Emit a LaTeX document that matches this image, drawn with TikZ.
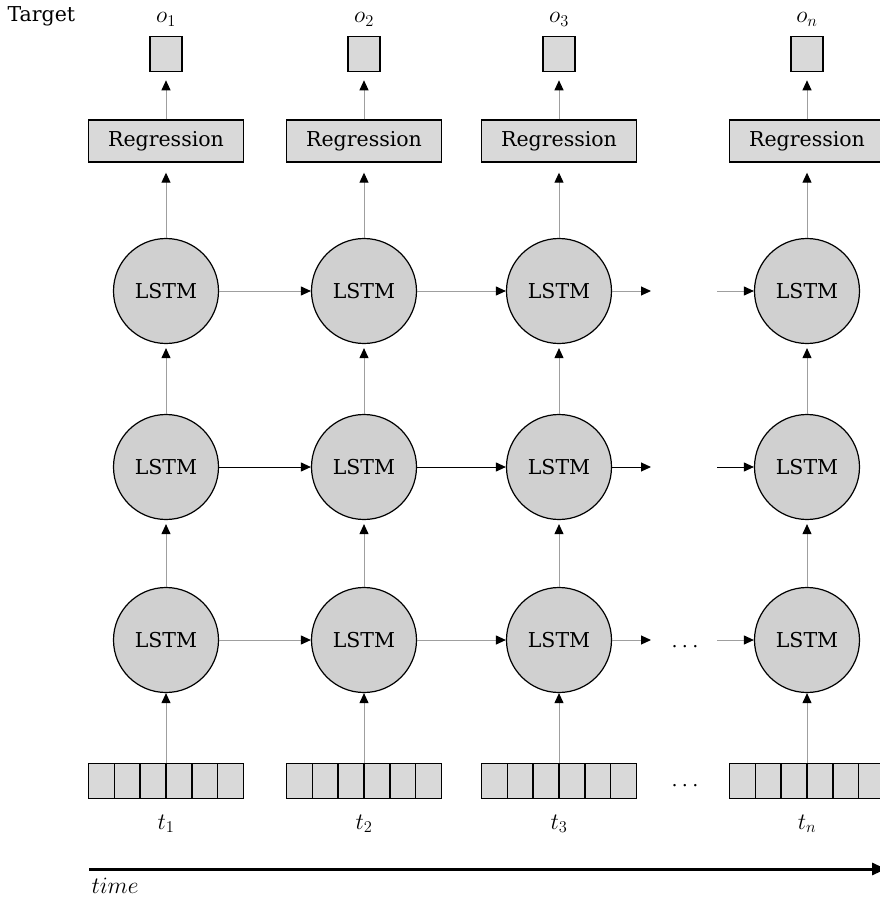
\RequirePackage{fix-cm}
\documentclass[tikz,border=0pt]{standalone}
\usepackage{fontspec}
\setmainfont{DejaVu Serif}
\usetikzlibrary{arrows.meta}
\definecolor{cgray}{RGB}{208,208,208}
\definecolor{bgray}{RGB}{217,217,217}
\begin{document}
\begin{tikzpicture}[x=1pt,y=-1pt,
  txt/.style={font=\fontsize{20.5}{24}\selectfont},
  mtxt/.style={font=\fontsize{23.5}{27}\selectfont},
  lstm/.style={circle, draw=black, line width=1.2pt, fill=cgray, minimum size=105pt, inner sep=0pt, txt},
  regbox/.style={rectangle, draw=black, line width=1.4pt, fill=bgray, minimum width=155pt, minimum height=42pt, inner sep=0pt, txt},
  outbox/.style={rectangle, draw=black, line width=1.6pt, fill=bgray, minimum width=32pt, minimum height=35pt, inner sep=0pt},
  inbox/.style={rectangle, draw=black, line width=1.6pt, fill=bgray, minimum width=155pt, minimum height=35pt, inner sep=0pt},
  conn/.style={draw=gray!75, line width=1pt, -{Triangle[color=black,length=10pt,width=9pt]}},
  connk/.style={conn, draw=black},
]
\useasboundingbox (0,0) rectangle (880,902);
\node[txt, anchor=base west] (target) at (4,21) {Target};
\foreach \i/\x/\lab in {1/166/1,2/364/2,3/559/3,4/807/n}{
  \node[mtxt, anchor=base] (o\i) at (\x,23) {$o_{\lab}$};
  \node[outbox] (ob\i) at (\x,54) {};
  \node[regbox] (r\i) at (\x,141) {Regression};
  \node[lstm] (c\i) at (\x,291) {LSTM};
  \node[lstm] (b\i) at (\x,467) {LSTM};
  \node[lstm] (a\i) at (\x,640) {LSTM};
  \node[inbox] (in\i) at (\x,781) {};
  \foreach \k in {1,...,5}{
    \draw[line width=1.6pt] (\x-77.5+\k*25.83,763.5) -- ++(0,35);
  }
  \node[mtxt, anchor=base] (t\i) at (\x,829) {$t_{\lab}$};
  \draw[conn, shorten >=8pt] (r\i.north) -- (ob\i.south);
  \draw[conn, shorten >=10pt] (c\i.north) -- (r\i.south);
  \draw[conn, shorten >=4pt] (b\i.north) -- (c\i.south);
  \draw[conn, shorten >=4pt] (a\i.north) -- (b\i.south);
  \draw[conn] (in\i.north) -- (a\i.south);
}
% dangling ends
\coordinate (cd1) at (651,291);
\coordinate (cd2) at (717,291);
\coordinate (bd1) at (651,467);
\coordinate (bd2) at (717,467);
\coordinate (ad1) at (651,640);
\coordinate (ad2) at (717,640);
\draw[conn] (c1.east) -- (c2.west);
\draw[conn] (c2.east) -- (c3.west);
\draw[conn] (c3.east) -- (cd1);
\draw[conn] (cd2) -- (c4.west);
\draw[connk] (b1.east) -- (b2.west);
\draw[connk] (b2.east) -- (b3.west);
\draw[connk] (b3.east) -- (bd1);
\draw[connk] (bd2) -- (b4.west);
\draw[conn] (a1.east) -- (a2.west);
\draw[conn] (a2.east) -- (a3.west);
\draw[conn] (a3.east) -- (ad1);
\draw[conn] (ad2) -- (a4.west);
\node[mtxt] (e1) at (685,647) {$\cdots$};
\node[mtxt] (e2) at (685,786) {$\cdots$};
% time axis
\coordinate (ts) at (89,869);
\coordinate (te) at (886,869);
\draw[line width=3pt, -{Triangle[length=14pt,width=12pt]}] (ts) -- (te);
\node[mtxt, anchor=base west] (tm) at (88,893) {$time$};
\end{tikzpicture}
\end{document}
